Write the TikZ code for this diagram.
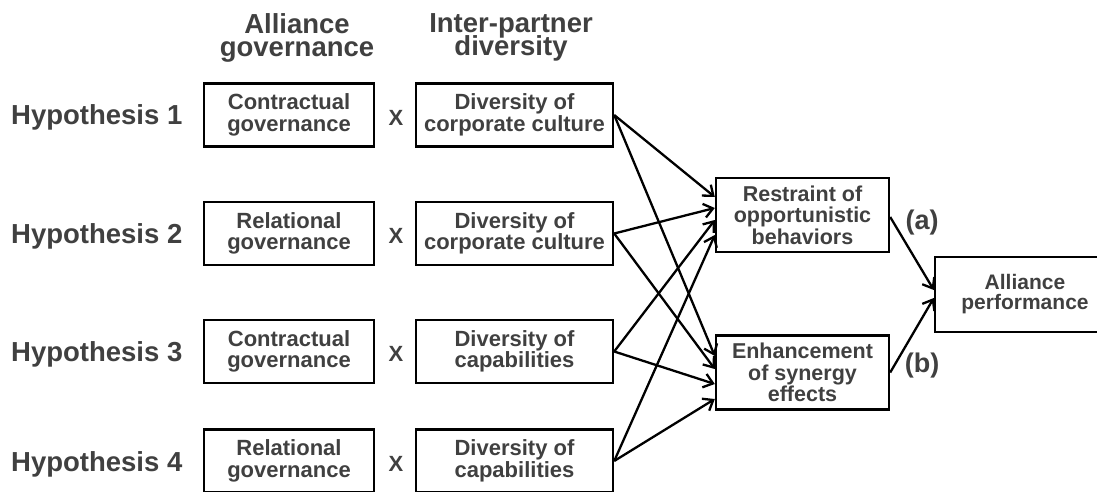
\documentclass[tikz,border=0pt]{standalone}
\usepackage{fontspec}
\setmainfont{Liberation Sans}
\usetikzlibrary{arrows.meta}
\definecolor{txt}{HTML}{404040}
\newcommand\tightls{\lineskiplimit=-100pt\lineskip=0pt\relax}
\begin{document}
\begin{tikzpicture}[x=1pt,y=-1pt,
  every node/.style={text=txt},
  hyp/.style={anchor=base west, inner sep=0pt, font={\bfseries\fontsize{27.5}{22}\selectfont}},
  head/.style={align=center, inner sep=0pt, font={\bfseries\fontsize{27.5}{23}\selectfont\tightls}},
  cross/.style={anchor=base, inner sep=0pt, font={\bfseries\fontsize{22}{22}\selectfont}},
  lab/.style={inner sep=0pt, font={\bfseries\fontsize{27}{27}\selectfont}},
  boxbase/.style={draw=black, line width=2.4pt, inner sep=0pt, align=center},
  lbox/.style={boxbase, minimum width=170pt, minimum height=63pt, font={\bfseries\fontsize{22}{21.5}\selectfont\tightls}},
  dbox/.style={boxbase, minimum width=197pt, minimum height=63pt, font={\bfseries\fontsize{22}{21.5}\selectfont\tightls}},
  mbox/.style={boxbase, minimum width=173pt, minimum height=74pt, font={\bfseries\fontsize{21.5}{21.5}\selectfont\tightls}},
  pbox/.style={boxbase, minimum width=180pt, minimum height=75pt, font={\bfseries\fontsize{21}{20}\selectfont\tightls}},
  conn/.style={draw=black, line width=2.3pt, -{Straight Barb[length=9pt,width=14pt]}}
]
\useasboundingbox (0,0) rectangle (1097,492);
\clip (0,0) rectangle (1097,492);

% headers
\node[head] (hg) at (297,37.5) {Alliance\\governance};
\node[head] (hd) at (511,37.5) {Inter-partner\\diversity};

% row 1
\node[hyp] (h1) at (11,124.5) {Hypothesis 1};
\node[lbox] (c1) at (289,115) {Contractual\\governance};
\node[cross] (x1) at (396,125) {X};
\node[dbox] (d1) at (514.5,115) {Diversity of\\corporate culture};
% row 2
\node[hyp] (h2) at (11,243) {Hypothesis 2};
\node[lbox] (c2) at (289,233.5) {Relational\\governance};
\node[cross] (x2) at (396,243.5) {X};
\node[dbox] (d2) at (514.5,233.5) {Diversity of\\corporate culture};
% row 3
\node[hyp] (h3) at (11,361) {Hypothesis 3};
\node[lbox] (c3) at (289,351.5) {Contractual\\governance};
\node[cross] (x3) at (396,361.5) {X};
\node[dbox] (d3) at (514.5,351.5) {Diversity of\\capabilities};
% row 4
\node[hyp] (h4) at (11,471) {Hypothesis 4};
\node[lbox] (c4) at (289,461) {Relational\\governance};
\node[cross] (x4) at (396,471) {X};
\node[dbox] (d4) at (514.5,461) {Diversity of\\capabilities};

% mediators and outcome
\node[mbox] (R) at (802.5,215) {Restraint of\\opportunistic\\behaviors};
\node[mbox] (E) at (802.5,372.5) {Enhancement\\of synergy\\effects};
\node[pbox] (P) at (1025,294.5) {Alliance\\performance};

\node[lab] (la) at (922,223) {(a)};
\node[lab] (lb) at (922,366) {(b)};

% connectors
\draw[conn] (d1.east) -- ([yshift=18pt]R.west);
\draw[conn] (d1.east) -- ([yshift=16.5pt]E.west);
\draw[conn] (d2.east) -- ([yshift=7pt]R.west);
\draw[conn] (d2.east) -- ([yshift=3.5pt]E.west);
\draw[conn] (d3.east) -- ([yshift=-5pt]R.west);
\draw[conn] (d3.east) -- ([yshift=-11.5pt]E.west);
\draw[conn] (d4.east) -- ([yshift=-20pt]R.west);
\draw[conn] (d4.east) -- ([yshift=-26.5pt]E.west);
\draw[conn] ([yshift=-2pt]R.east) -- ([yshift=4.5pt]P.west);
\draw[conn] (E.east) -- ([yshift=-3.5pt]P.west);
\end{tikzpicture}
\end{document}
